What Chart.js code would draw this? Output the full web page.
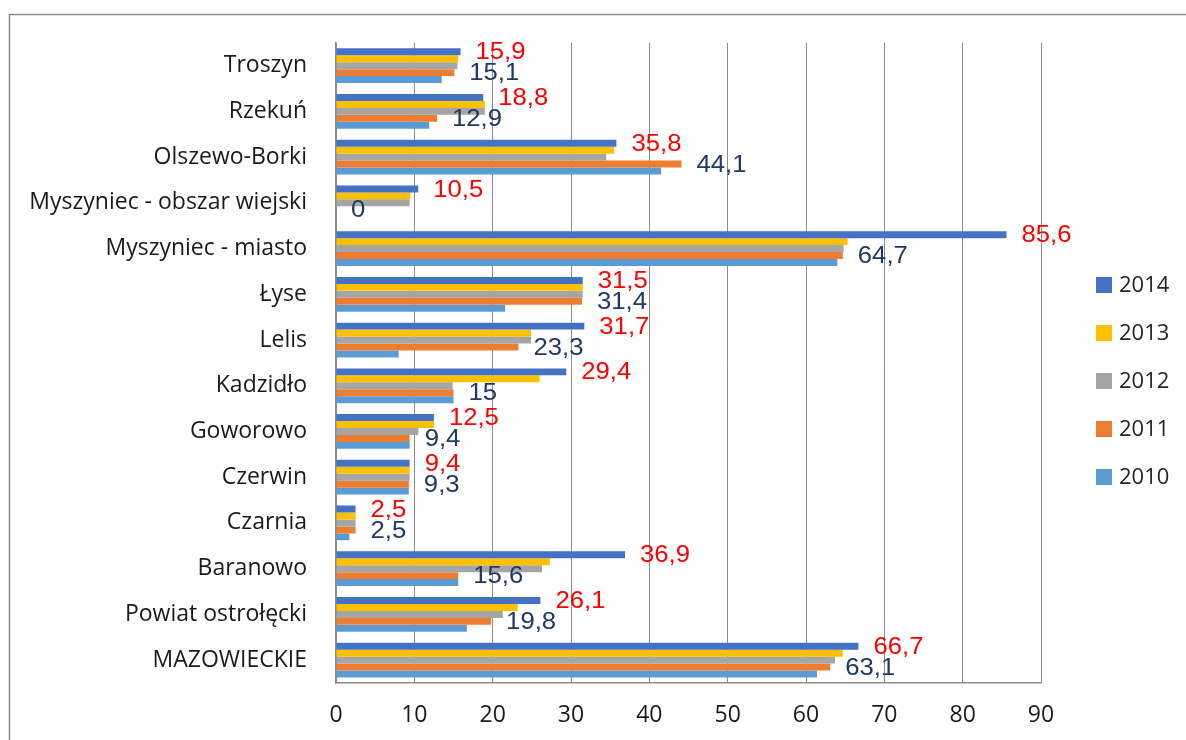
<!DOCTYPE html>
<html>
<head>
<meta charset="utf-8">
<script src="https://cdn.jsdelivr.net/npm/chart.js@4"></script>
<style>
html,body{margin:0;padding:0;background:#fff;}
#wrap{width:1186px;height:740px;position:relative;}
</style>
</head>
<body>
<div id="wrap"><canvas id="c" width="1186" height="740"></canvas></div>
<script>
const categories = ["Troszyn","Rzekuń","Olszewo-Borki","Myszyniec - obszar wiejski","Myszyniec - miasto","Łyse","Lelis","Kadzidło","Goworowo","Czerwin","Czarnia","Baranowo","Powiat ostrołęcki","MAZOWIECKIE"];
const seriesNames = ["2014","2013","2012","2011","2010"];
const v2014 = [15.9, 18.8, 35.8, 10.5, 85.6, 31.5, 31.7, 29.4, 12.5, 9.4, 2.5, 36.9, 26.1, 66.7];
const v2013 = [15.6, 19.0, 35.5, 9.5, 65.3, 31.5, 24.9, 26.0, 12.5, 9.4, 2.5, 27.3, 23.2, 64.7];
const v2012 = [15.5, 19.0, 34.5, 9.4, 64.8, 31.5, 24.9, 14.9, 10.5, 9.4, 2.5, 26.3, 21.3, 63.7];
const v2011 = [15.1, 12.9, 44.1, 0, 64.7, 31.4, 23.3, 15, 9.4, 9.3, 2.5, 15.6, 19.8, 63.1];
const v2010 = [13.5, 11.9, 41.5, 0, 64.0, 21.6, 8.0, 15.0, 9.4, 9.3, 1.7, 15.6, 16.7, 61.4];
const xTicks = [0,10,20,30,40,50,60,70,80,90];

const colors = ["#4472C4","#FFC000","#A5A5A5","#ED7D31","#5B9BD5"];
const values = [v2014, v2013, v2012, v2011, v2010];
const labelColors = {0:"#FF0000", 3:"#1F3864"};

const frame = {
  id:'frame',
  beforeDraw(chart){
    const ctx = chart.ctx;
    ctx.save();
    ctx.fillStyle = '#fff';
    ctx.fillRect(0,0,chart.width,chart.height);
    ctx.strokeStyle = '#8a8a8a';
    ctx.lineWidth = 1.5;
    ctx.strokeRect(9.5,14.5,1300,900);
    ctx.restore();
  }
};

const dataLabels = {
  id:'dataLabels',
  afterDatasetsDraw(chart){
    const ctx = chart.ctx;
    ctx.save();
    ctx.font = '24px "Liberation Sans", Arial, sans-serif';
    ctx.textAlign = 'left';
    ctx.textBaseline = 'middle';
    [3,0].forEach(di => {
      const meta = chart.getDatasetMeta(di);
      meta.data.forEach((bar, i) => {
        const v = chart.data.datasets[di].data[i];
        const txt = String(v).replace('.', ',');
        ctx.fillStyle = labelColors[di];
        ctx.save();
        ctx.translate(bar.x + 15, bar.y + 1);
        ctx.scale(1.07, 1);
        ctx.fillText(txt, 0, 0);
        ctx.restore();
      });
    });
    ctx.restore();
  }
};

const legendPlugin = {
  id:'customLegend',
  afterDraw(chart){
    const ctx = chart.ctx;
    ctx.save();
    ctx.font = '22px "Open Sans", sans-serif';
    ctx.textAlign = 'left';
    ctx.textBaseline = 'middle';
    chart.data.datasets.forEach((ds, i) => {
      const y = 285 + 48*i;
      ctx.fillStyle = ds.backgroundColor;
      ctx.fillRect(1096, y-8, 16, 16);
      ctx.fillStyle = '#262626';
      ctx.fillText(ds.label, 1119, y+1);
    });
    ctx.restore();
  }
};

new Chart(document.getElementById('c'), {
  type:'bar',
  data:{
    labels: categories,
    datasets: seriesNames.map((n,i)=>({
      label:n,
      data: values[i],
      backgroundColor: colors[i],
      borderWidth:0,
      categoryPercentage:0.76,
      barPercentage:1.0
    }))
  },
  options:{
    indexAxis:'y',
    responsive:false,
    animation:false,
    events:[],
    layout:{padding:{left:0,top:42,right:145,bottom:0}},
    plugins:{legend:{display:false},tooltip:{enabled:false}},
    scales:{
      x:{
        min:0,max:90,
        afterBuildTicks(s){ s.ticks = xTicks.map(v=>({value:v})); },
        afterFit(s){ s.height = 57; },
        grid:{display:true,color:'#8c8c8c',lineWidth:1,drawTicks:false},
        border:{display:true,color:'#8c8c8c',width:1.5},
        ticks:{padding:19,color:'#1a1a1a',font:{family:'"Open Sans", sans-serif',size:23},maxRotation:0}
      },
      y:{
        afterFit(s){ s.width = 336; },
        grid:{display:false,drawTicks:false},
        border:{display:true,color:'#8c8c8c',width:1.5},
        ticks:{padding:29,color:'#1a1a1a',font:{family:'"Open Sans", sans-serif',size:23},autoSkip:false}
      }
    }
  },
  plugins:[frame,dataLabels,legendPlugin]
});
</script>
</body>
</html>
